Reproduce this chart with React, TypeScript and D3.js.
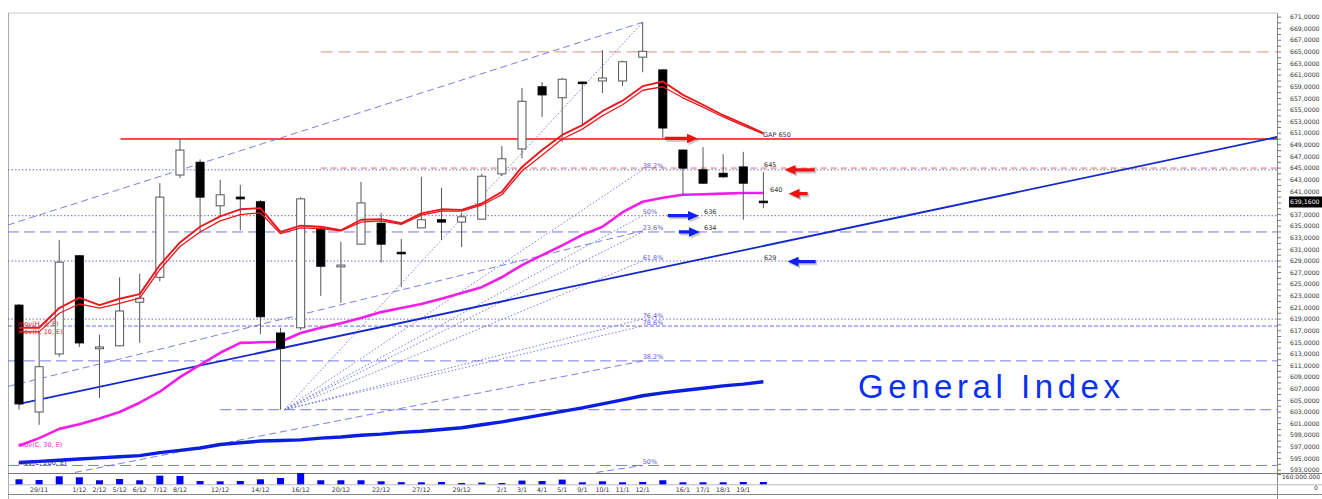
import React from 'react';
import * as d3 from 'd3';

if (typeof document !== 'undefined') {
  document.body.style.margin = '0';
  document.body.style.overflow = 'hidden';
}

// ---------- DATA ----------
const dates = ['28/11','29/11','30/11','1/12','2/12','5/12','6/12','7/12','8/12','9/12','12/12','13/12','14/12','15/12','16/12','19/12','20/12','21/12','22/12','23/12','27/12','28/12','29/12','30/12','2/1','3/1','4/1','5/1','9/1','10/1','11/1','12/1','13/1','16/1','17/1','18/1','19/1','20/1'];
const labeledDates = ['29/11','1/12','2/12','5/12','6/12','7/12','8/12','12/12','14/12','16/12','20/12','22/12','27/12','29/12','2/1','3/1','4/1','5/1','9/1','10/1','11/1','12/1','16/1','17/1','18/1','19/1'];

const openP  = [621.4,603.0,613.0,629.9,613.9,614.4,621.9,626.2,643.8,646.0,638.5,640.0,639.2,616.6,617.5,634.5,628.0,631.9,635.5,630.5,634.7,636.1,635.7,636.2,644.0,648.3,659.0,657.1,659.8,660.0,660.0,664.1,661.9,648.1,644.7,644.1,645.2,639.3];
const highP  = [621.6,616.8,632.6,630.0,616.3,626.2,626.8,642.4,650.0,646.5,643.0,642.1,639.5,617.5,640.0,634.8,632.3,642.6,637.3,632.8,643.5,641.6,637.3,644.0,648.8,658.8,659.8,660.5,659.9,665.3,663.5,670.1,662.0,648.2,648.6,647.4,647.8,644.3];
const lowP   = [603.4,600.8,612.5,614.2,605.4,614.4,614.9,625.5,643.3,633.8,636.6,634.3,616.4,603.4,617.1,623.0,621.8,631.9,628.7,624.5,634.7,632.6,631.4,636.2,643.6,646.7,653.8,649.5,652.4,657.9,659.1,661.5,650.2,640.4,642.3,643.3,636.1,638.1];
const closeP = [604.4,610.8,628.8,614.9,614.2,620.4,622.6,640.0,648.1,640.0,640.4,639.7,619.4,614.0,639.7,628.1,628.3,639.0,631.9,630.3,636.1,635.7,636.6,643.6,646.6,656.5,657.6,660.3,659.6,660.5,663.3,665.1,651.9,645.0,642.4,643.5,642.4,639.16];
// volume in millions
const volume = [82,70,131,115,66,87,66,141,136,54,49,54,82,103,185,66,66,66,49,35,33,38,21,28,21,61,54,77,33,49,33,38,66,33,33,33,38,38];

const movH7   = [617.5,617.5,620.9,622.7,621.4,622.5,623.3,628.3,632.2,634.9,636.7,637.9,638.1,634.0,635.1,634.9,634.3,636.1,636.2,635.5,637.2,637.9,637.8,638.9,640.9,645.2,648.1,650.7,652.4,654.8,656.6,659.1,659.9,657.6,655.9,654.1,652.6,651.0];
const movH10  = [616.8,616.8,620.0,621.6,620.9,621.7,622.6,627.5,631.5,634.0,635.9,637.0,637.3,633.7,634.7,634.6,634.2,635.7,635.9,635.3,636.9,637.6,637.6,638.6,640.4,644.5,647.2,650.0,651.7,654.0,655.9,658.4,659.0,657.1,655.5,653.8,652.3,650.9];
const movC30  = [597.2,598.5,600.1,600.9,601.9,603.0,604.6,606.5,609.0,611.1,613.2,614.9,615.0,615.1,616.6,617.5,618.3,619.2,620.2,620.9,621.6,622.5,623.5,624.5,626.2,628.3,630.0,631.7,633.5,634.9,637.4,639.2,639.9,640.4,640.5,640.6,640.7,640.7];
const movC200 = [594.3,594.5,594.7,594.9,595.1,595.3,595.5,596.0,596.4,596.8,597.4,597.7,598.0,598.1,598.2,598.5,598.7,599.0,599.2,599.5,599.7,600.0,600.3,600.8,601.3,601.9,602.5,603.1,603.7,604.4,605.1,605.8,606.3,606.7,607.1,607.5,607.8,608.2];

const lastPrice = 639.16;
const priceLabelValues = d3.range(593, 672, 2).filter((v) => v !== 639);
const priceTickValues = d3.range(593, 672, 1);
const volumeLabel = 160;

// horizontal levels: value, start index, kind
const levels = [
  { value: 650.0, start: 5.05, kind: 'gap' },
  { value: 665.0, start: 15, kind: 'salmon' },
  { value: 645.0, start: 15, kind: 'redDash' },
  { value: 644.7, start: -1, kind: 'dot' },
  { value: 636.8, start: -1, kind: 'dot' },
  { value: 634.0, start: -1, kind: 'dash' },
  { value: 629.0, start: -1, kind: 'dot' },
  { value: 619.0, start: -1, kind: 'dot' },
  { value: 617.8, start: -1, kind: 'short' },
  { value: 611.8, start: -1, kind: 'dash' },
  { value: 603.4, start: 10, kind: 'dash' },
  { value: 593.8, start: -1, kind: 'dash' },
];

// trend / channel / fan lines in (index, value)
const trendLine = [[0, 604.4], [62.6, 650.4]];
const channelLines = [
  [[-0.55, 635.2], [31, 670.1]],
  [[-0.55, 607.4], [31, 634.2]],
  [[2.78, 592.6], [31, 611.8]],
  [[28.7, 592.6], [31, 593.8]],
];
const fanOrigin = [13.2, 603.4];
const fanTargets = [670.1, 644.7, 636.8, 634.0, 629.0, 619.0, 617.8];

const fibLabels = [
  { value: 644.7, text: '38,2%' },
  { value: 636.8, text: '50%' },
  { value: 634.0, text: '23,6%' },
  { value: 629.0, text: '61,8%' },
  { value: 619.0, text: '76,4%' },
  { value: 617.8, text: '78,6%' },
  { value: 611.8, text: '38,2%' },
  { value: 593.8, text: '50%' },
];
const fibLabelIndex = 31;

const notes = [
  { i: 36.98, value: 650.1, text: 'GAP 650' },
  { i: 37.03, value: 644.9, text: '645' },
  { i: 37.33, value: 640.7, text: '640' },
  { i: 34.05, value: 636.8, text: '636' },
  { i: 34.05, value: 634.1, text: '634' },
  { i: 37.03, value: 629.0, text: '629' },
];

const arrows = [
  { from: 32.1, to: 33.75, value: 650.1, color: 'red' },
  { from: 39.55, to: 38.05, value: 644.7, color: 'red' },
  { from: 39.2, to: 38.25, value: 640.6, color: 'red' },
  { from: 32.25, to: 33.8, value: 636.8, color: 'blue' },
  { from: 32.8, to: 33.85, value: 634.0, color: 'blue' },
  { from: 39.6, to: 38.2, value: 628.9, color: 'blue' },
];

const maLabels = [
  { text: 'mov(H, 7, E)', value: 618.2, color: '#e02020' },
  { text: 'mov(H, 10, E)', value: 616.8, color: '#e02020' },
  { text: 'mov(C, 30, E)', value: 597.4, color: '#ee22dd' },
  { text: 'mov(C, 200, E)', value: 594.3, color: '#2a2aa0' },
];

// ---------- CHART ----------
const W = 1322;
const H = 499;
const left = 8;
const axisX = 1277;
const top = 13;
const paneBottom = 473;
const volBase = 484.3;

export default function App() {
  const n = dates.length;
  const x = d3.scaleLinear().domain([0, n - 1]).range([19, 763.4]);
  const y = d3.scaleLinear().domain([592.5, 671.7]).range([paneBottom, top]);
  const vy = d3.scaleLinear().domain([0, 185]).range([volBase, 473]);
  const idx = d3.range(n);

  const seriesPath = (arr: number[]) =>
    d3.line<number>().x((_, i) => x(i)).y((v) => y(v))(arr) || '';
  const segPath = (pts: number[][]) =>
    d3.line<number[]>().x((d) => x(d[0])).y((d) => y(d[1]))(pts) || '';

  const levelStyle: Record<string, any> = {
    gap: { stroke: '#ee1111', sw: 1.6, dash: undefined },
    salmon: { stroke: '#e0a898', sw: 1.2, dash: '12,6' },
    redDash: { stroke: '#e07070', sw: 1, dash: '6,4' },
    dot: { stroke: '#6a6ad6', sw: 1, dash: '1.5,2' },
    dash: { stroke: '#7a7ae0', sw: 1, dash: '11,5' },
    short: { stroke: '#6a6ad6', sw: 1, dash: '4,2' },
  };

  const font = '"DejaVu Sans", Verdana, sans-serif';
  const bodyW = 8;
  const fmtPrice = (v: number) => d3.format('.4f')(v).replace('.', ',');

  const arrowPath = (x0: number, x1: number, yy: number) => {
    const dir = x1 > x0 ? 1 : -1;
    const hl = 11;
    const hx = x1 - dir * hl;
    return `M${x0},${yy - 1.6}L${hx},${yy - 1.6}L${hx},${yy - 4.8}L${x1},${yy}L${hx},${yy + 4.8}L${hx},${yy + 1.6}L${x0},${yy + 1.6}Z`;
  };

  return (
    <svg width={W} height={H} style={{ display: 'block', background: '#fff' }}>
      <defs>
        <clipPath id="pane">
          <rect x={left} y={top} width={axisX - left} height={paneBottom - top} />
        </clipPath>
      </defs>

      {/* frame */}
      <line x1={left} y1={top} x2={axisX} y2={top} stroke="#c8c8c8" />
      <line x1={left + 0.5} y1={top} x2={left + 0.5} y2={H} stroke="#aaa" />
      <line x1={axisX + 0.5} y1={top} x2={axisX + 0.5} y2={H} stroke="#888" />
      <line x1={left} y1={paneBottom + 0.5} x2={W} y2={paneBottom + 0.5} stroke="#777" />
      <line x1={left} y1={volBase + 0.5} x2={W} y2={volBase + 0.5} stroke="#bbb" />
      <line x1={left} y1={494.5} x2={W} y2={494.5} stroke="#888" />

      <g clipPath="url(#pane)">
        {levels.map((lv, k) => {
          const st = levelStyle[lv.kind];
          return (
            <line key={'lv' + k} x1={Math.max(left, x(lv.start))} x2={axisX} y1={y(lv.value)} y2={y(lv.value)}
              stroke={st.stroke} strokeWidth={st.sw} strokeDasharray={st.dash} />
          );
        })}

        {fanTargets.map((t, k) => (
          <path key={'fan' + k} d={segPath([fanOrigin, [fibLabelIndex, t]])} fill="none"
            stroke="#6a6ad6" strokeWidth={0.9} strokeDasharray="1.5,2" />
        ))}
        {channelLines.map((pts, k) => (
          <path key={'ch' + k} d={segPath(pts)} fill="none" stroke="#6e6ede" strokeWidth={0.9} strokeDasharray="7,4" />
        ))}

        <path d={segPath(trendLine)} fill="none" stroke="#1428cc" strokeWidth={1.8} />

        <path d={seriesPath(movC200)} fill="none" stroke="#0a1ee0" strokeWidth={3.4} strokeLinejoin="round" />
        <path d={seriesPath(movC30)} fill="none" stroke="#f01ee6" strokeWidth={2.6} strokeLinejoin="round" />

        {idx.map((i) => {
          const o = openP[i], c = closeP[i];
          const up = c >= o;
          const yt = y(Math.max(o, c));
          const yb = y(Math.min(o, c));
          const h = Math.max(yb - yt, 1.5);
          return (
            <g key={'c' + i}>
              <line x1={x(i)} x2={x(i)} y1={y(highP[i])} y2={y(lowP[i])} stroke="#555" strokeWidth={1} />
              <rect x={x(i) - bodyW / 2} y={yt} width={bodyW} height={h}
                fill={up ? '#fff' : '#000'} stroke={up ? '#555' : '#000'} strokeWidth={1} />
            </g>
          );
        })}

        <path d={seriesPath(movH10)} fill="none" stroke="#e8191e" strokeWidth={1.3} strokeLinejoin="round" />
        <path d={seriesPath(movH7)} fill="none" stroke="#e8191e" strokeWidth={1.9} strokeLinejoin="round" />

        {fibLabels.map((f, k) => (
          <text key={'fl' + k} x={x(fibLabelIndex)} y={y(f.value) - 1.5} fontSize={6.5} fontFamily={font} fill="#5a5ad0">{f.text}</text>
        ))}
        {notes.map((nt, k) => (
          <text key={'nt' + k} x={x(nt.i)} y={y(nt.value) - 1.5} fontSize={6.5} fontFamily={font} fill="#333">{nt.text}</text>
        ))}

        {arrows.map((a, k) => {
          const yy = y(a.value);
          const p = arrowPath(x(a.from), x(a.to), yy);
          return (
            <g key={'ar' + k}>
              <path d={p} fill="#888" opacity={0.45} transform="translate(1.5,2)" />
              <path d={p} fill={a.color === 'red' ? '#ee1111' : '#1020ee'} />
            </g>
          );
        })}

        {maLabels.map((m, k) => (
          <text key={'ml' + k} x={18} y={y(m.value) + 2} fontSize={6.5} fontFamily={font} fill={m.color}>{m.text}</text>
        ))}

        <text x={858} y={398} fontSize={33} fontFamily='"Liberation Sans", Arial, sans-serif' fill="#0a30f0"
          textLength={262} lengthAdjust="spacing">General Index</text>
      </g>

      {idx.map((i) => (
        <rect key={'v' + i} x={x(i) - 3.5} y={vy(volume[i])} width={7} height={volBase - vy(volume[i])} fill="#0000ff" />
      ))}

      {priceTickValues.map((v) => (
        <line key={'t' + v} x1={axisX} x2={axisX + 4} y1={y(v)} y2={y(v)} stroke="#777" />
      ))}
      {priceLabelValues.map((v) => (
        <text key={'pl' + v} x={1290} y={y(v) + 2.2} fontSize={6.2} fontFamily={font} fill="#333">
          {fmtPrice(v)}
        </text>
      ))}
      <rect x={1289} y={y(lastPrice) - 5.5} width={33} height={11} fill="#000" />
      <text x={1290} y={y(lastPrice) + 2.2} fontSize={6.2} fontFamily={font} fill="#fff">
        {fmtPrice(lastPrice)}
      </text>
      <line x1={axisX} x2={axisX + 4} y1={vy(volumeLabel)} y2={vy(volumeLabel)} stroke="#777" />
      <text x={1282} y={vy(volumeLabel) + 4} fontSize={6} fontFamily={font} fill="#333">
        {d3.format(',')(volumeLabel * 1e6).replace(/,/g, '.')}
      </text>
      <text x={1314} y={490} fontSize={6} fontFamily={font} fill="#333">0</text>

      {idx.filter((i) => labeledDates.includes(dates[i])).map((i) => (
        <text key={'xl' + i} x={x(i)} y={492} textAnchor="middle" fontSize={6.3} fontFamily={font} fill="#333">{dates[i]}</text>
      ))}
    </svg>
  );
}
